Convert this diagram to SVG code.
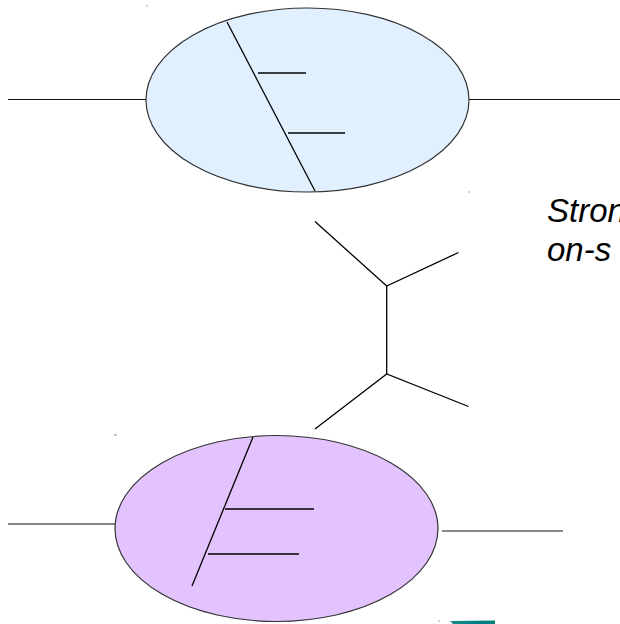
<svg xmlns="http://www.w3.org/2000/svg" width="620" height="624" viewBox="0 0 620 624">
  <style>
    .wire { stroke: #000; stroke-width: 1.3; fill: none; stroke-linecap: butt; }
    .lead { stroke: #111; stroke-width: 1.2; fill: none; }
    .blob { stroke: #333; stroke-width: 1.2; }
    .dot { fill: #555; }
    .label { font-family: "Liberation Sans", Arial, sans-serif; font-style: italic; font-size: 33px; fill: #000; }
  </style>
  <defs>
    <linearGradient id="tealGrad" x1="0" y1="0" x2="1" y2="0">
      <stop offset="0" stop-color="#1a8c8c"/>
      <stop offset="0.6" stop-color="#007f7f"/>
      <stop offset="1" stop-color="#008080"/>
    </linearGradient>
  </defs>

  <rect width="620" height="624" fill="#fff"/>

  <!-- upper blob with its leads -->
  <g id="upper-blob">
    <line class="lead" x1="8" y1="99.5" x2="146" y2="99.5"/>
    <line class="lead" x1="469" y1="99.5" x2="620" y2="99.5"/>
    <ellipse class="blob" cx="307.5" cy="100" rx="161.5" ry="92" fill="#e1f0fe"/>
    <line class="wire" x1="227" y1="22" x2="315" y2="191"/>
    <line class="wire" x1="258" y1="73" x2="306" y2="73"/>
    <line class="wire" x1="288" y1="133" x2="345" y2="133"/>
  </g>

  <!-- lower blob with its leads -->
  <g id="lower-blob">
    <line class="lead" x1="8" y1="524" x2="115" y2="524"/>
    <line class="lead" x1="442" y1="531" x2="563" y2="531"/>
    <ellipse class="blob" cx="276.5" cy="528.5" rx="161.5" ry="93" fill="#e3c3fd"/>
    <line class="wire" x1="253" y1="437" x2="192" y2="586"/>
    <line class="wire" x1="225" y1="509" x2="314" y2="509"/>
    <line class="wire" x1="208" y1="554" x2="299" y2="554"/>
  </g>

  <!-- exchange diagram between the blobs -->
  <g id="connectors">
    <polyline class="wire" points="315,221.5 386.7,286 458.5,252.5"/>
    <line class="wire" x1="386.7" y1="286" x2="386.7" y2="374"/>
    <polyline class="wire" points="315,429 386.7,374 468.5,406.5"/>
  </g>

  <g id="caption">
    <text class="label" x="547" y="222">Stron</text>
    <text class="label" x="547" y="261">on-s</text>
  </g>

  <!-- small marks -->
  <g id="marks">
    <rect class="dot" x="146.5" y="5.5" width="1" height="1"/>
    <rect class="dot" x="468.5" y="191.5" width="1" height="1"/>
    <rect class="dot" x="114.5" y="434.5" width="2" height="1"/>
    <rect class="dot" x="438.5" y="620.5" width="1" height="1"/>
    <polygon points="450,621 495,620.5 495,624 453,624" fill="url(#tealGrad)"/>
  </g>
</svg>
